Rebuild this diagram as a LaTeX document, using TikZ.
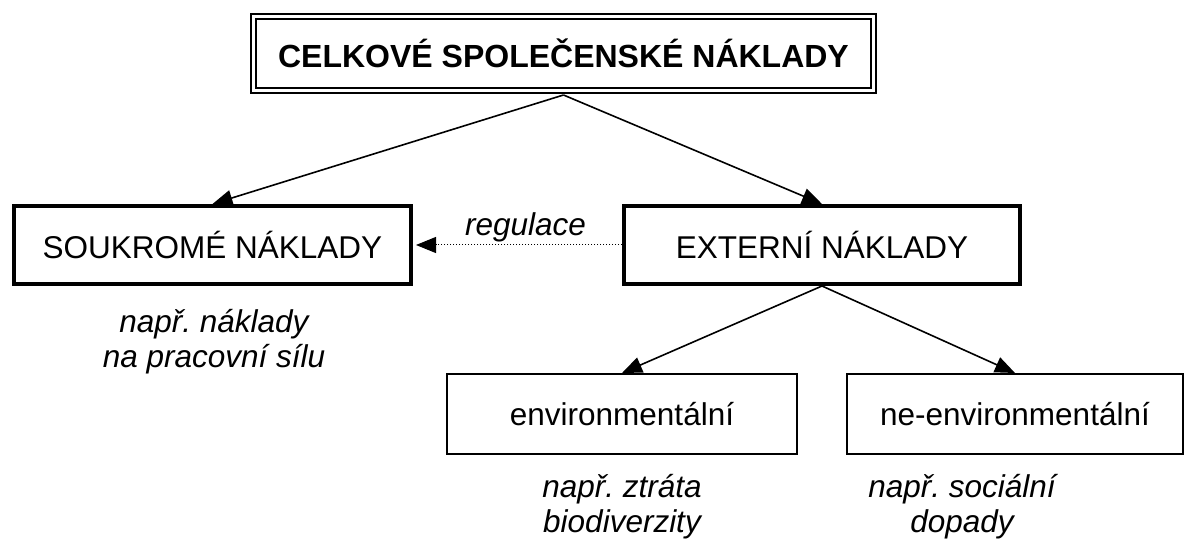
\documentclass[tikz,border=0pt]{standalone}
\usepackage{fontspec}
\setmainfont{Liberation Sans}
\usepackage{tikz}
\usetikzlibrary{arrows.meta, shapes, positioning}
\tikzstyle{hlavni} = [rectangle, draw = black, double, double distance = 1.5pt, line width = 1pt, minimum width = 310pt, minimum height = 37pt, text centered, font = \fontsize{16}{18}\selectfont\bfseries]
\tikzstyle{naklady} = [rectangle, draw = black, line width = 2pt, minimum width = 198.5pt, minimum height = 39pt, text centered, font = \fontsize{15.75}{17.5}\selectfont]
\tikzstyle{druh} = [rectangle, draw = black, line width = 1pt, minimum height = 40pt, text centered, font = \fontsize{15.75}{17.5}\selectfont]
\tikzstyle{popis} = [align = center, inner sep = 0pt, anchor = north, font = \fontsize{15.75}{17.5}\selectfont\itshape]

\begin{document}
\begin{tikzpicture}[>={Triangle[length = 10pt, width = 8pt]}]
\useasboundingbox (-281.75pt,-242.75pt) rectangle (311.25pt,26.75pt);
\node (celkove) [hlavni] {CELKOVÉ SPOLEČENSKÉ NÁKLADY};
\node (soukrome) [naklady, xshift = -175.5pt, yshift = -95.75pt] {SOUKROMÉ NÁKLADY};
\node (externi) [naklady, minimum width = 198pt, xshift = 129.25pt, yshift = -95.75pt] {EXTERNÍ NÁKLADY};
\node (env) [druh, minimum width = 175pt, xshift = 29.25pt, yshift = -180.25pt] {environmentální};
\node (nenv) [druh, minimum width = 168pt, xshift = 225.75pt, yshift = -180.25pt] {ne-environmentální};
% popisky pod boxy
\node (p1) [popis, xshift = -174.75pt, yshift = -127.5pt] {např.\ náklady\\na pracovní sílu};
\node (p2) [popis, xshift = 29.25pt, yshift = -210pt] {např.\ ztráta\\biodiverzity};
\node (p3) [popis, xshift = 199.25pt, yshift = -210pt] {např.\ sociální\\dopady};
% sipky
\draw[->, line width = 0.8pt] ([yshift = -1.75pt]celkove.south) -- (soukrome.north);
\draw[->, line width = 0.8pt] ([yshift = -1.75pt]celkove.south) -- (externi.north);
\draw[->, line width = 0.8pt] (externi.south) -- (env.north);
\draw[->, line width = 0.8pt] (externi.south) -- (nenv.north);
\draw[->, line width = 0.5pt, dash pattern = on 0.5pt off 1pt, shorten > = 1.5pt] (externi.west) -- node[above, inner sep = 1pt, xshift = 4pt, font = \fontsize{15.75}{17.5}\selectfont\itshape]{regulace} (soukrome.east);
\end{tikzpicture}
\end{document}
